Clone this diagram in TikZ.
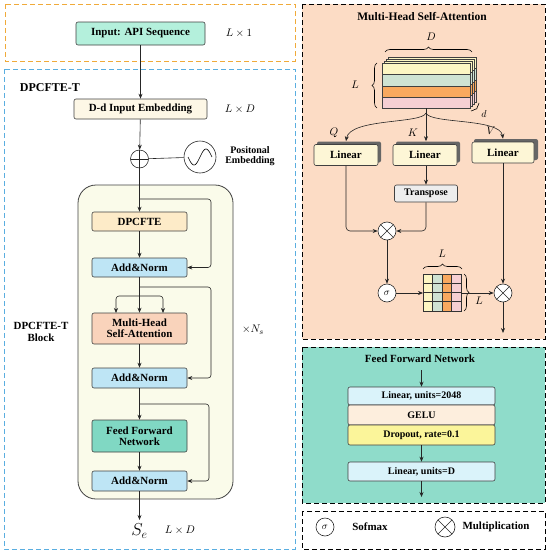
\documentclass[tikz,border=0pt,11pt]{standalone}
\usepackage{fontspec}
\setmainfont{Liberation Serif}
\usetikzlibrary{arrows.meta,decorations.pathreplacing,calc}
\definecolor{cinput}{HTML}{B4F0DC}
\definecolor{cemb}{HTML}{FDF7E6}
\definecolor{cblock}{HTML}{FAFBEA}
\definecolor{cdpc}{HTML}{FDEBC8}
\definecolor{cadd}{HTML}{BEE5F5}
\definecolor{cmhsa}{HTML}{F9D3BB}
\definecolor{cffn}{HTML}{80D8C3}
\definecolor{corange}{HTML}{F0AA3A}
\definecolor{cblue}{HTML}{5AAEE0}
\definecolor{cpeach}{HTML}{FCDCC5}
\definecolor{cteal}{HTML}{8FDCCA}
\definecolor{clin}{HTML}{FDF6D6}
\definecolor{clinb}{HTML}{DAF3FA}
\definecolor{cgelu}{HTML}{FDEEDD}
\definecolor{cdrop}{HTML}{FBF59A}
\definecolor{syel}{HTML}{FDF6C3}
\definecolor{sgrn}{HTML}{CFE3D3}
\definecolor{sorg}{HTML}{F9A95F}
\definecolor{spnk}{HTML}{F6CFD3}
\tikzset{
  bx/.style={draw=black!75, rounded corners=2pt, line width=0.6pt, font=\bfseries, inner sep=0pt, align=center},
  arr/.style={-{Stealth[length=5pt,width=4pt]}, line width=0.6pt, draw=black!85},
  ln/.style={line width=0.6pt, draw=black!85},
  panel/.style={dashed, dash pattern=on 5pt off 3pt, line width=0.8pt},
  opcirc/.style={circle, draw=black!85, line width=0.6pt, fill=white, inner sep=0pt},
  otimes/.style={opcirc, path picture={
     \draw[line width=0.6pt] (path picture bounding box.north west) -- (path picture bounding box.south east)
       (path picture bounding box.north east) -- (path picture bounding box.south west);}},
  oplus/.style={opcirc, fill=none, path picture={
     \draw[line width=0.6pt] (path picture bounding box.north) -- (path picture bounding box.south)
       (path picture bounding box.east) -- (path picture bounding box.west);}},
  brc/.style={decorate, decoration={brace, amplitude=5pt}, line width=0.6pt},
  lbl/.style={font=\bfseries},
}
\begin{document}
\begin{tikzpicture}[x=1pt,y=-1pt]
\useasboundingbox (0,0) rectangle (550,554);
% ---------- panels
\draw[panel, draw=corange] (5,4) rectangle (295,61);
\draw[panel, draw=cblue] (4,69) rectangle (295,549);
\draw[panel, fill=cpeach] (302,4) rectangle (545,339);
\draw[panel, fill=cteal] (302,347) rectangle (545,503);
\draw[panel] (302,511) rectangle (545,549);

% ---------- left column
\node[bx, fill=cinput, minimum width=129pt, minimum height=23pt] (in) at (140.5,33.5) {Input: API Sequence};
\node (inlab) at (239,33.5) {$L\times 1$};
\node[lbl, anchor=west, font=\bfseries\large] (dtitle) at (16,88) {DPCFTE-T};
\node[bx, fill=cemb, minimum width=133pt, minimum height=20pt] (emb) at (140.5,109) {D-d Input Embedding};
\node (emblab) at (240,109) {$L\times D$};
\node[oplus, minimum size=18pt] (plus) at (139.5,159) {};
\node[opcirc, fill=none, minimum size=32pt] (sine) at (200,157) {};
\draw[line width=0.6pt] plot[domain=-1:1, samples=40, smooth] ({200+12*\x},{157-8*sin(\x*180)});
\node[lbl, align=center, font=\bfseries\small] (poslab) at (250,156) {Positonal\\[-2pt]Embedding};

\draw[line width=0.8pt, draw=black!75, fill=cblock, rounded corners=18pt] (78,185) rectangle (233,499);
\node[lbl, align=center] (blklab) at (41,332) {DPCFTE-T\\[-1pt]Block};
\node (nslab) at (253,330) {$\times N_s$};

\node[bx, fill=cdpc, minimum width=95pt, minimum height=19pt] (dpc) at (139.5,221.5) {DPCFTE};
\node[bx, fill=cadd, minimum width=95pt, minimum height=19pt] (add1) at (139.5,267.5) {Add\&Norm};
\node[bx, fill=cmhsa, minimum width=95pt, minimum height=31pt] (mhsa) at (139.5,328.5) {Multi-Head\\[-3pt]Self-Attention};
\node[bx, fill=cadd, minimum width=95pt, minimum height=20pt] (add2) at (139.5,378) {Add\&Norm};
\node[bx, fill=cffn, minimum width=95pt, minimum height=32pt] (ffn) at (139.5,436) {Feed Forward\\[-3pt]Network};
\node[bx, fill=cadd, minimum width=95pt, minimum height=20pt] (add3) at (139.5,481) {Add\&Norm};
\node[font=\LARGE] (se) at (139.5,531) {$S_e$};
\node (selab) at (180,530) {$L\times D$};

\draw[arr] (in) -- (emb);
\draw[arr] (emb) -- (plus);
\draw[ln] (plus) -- (sine);
\draw[arr] (plus) -- (dpc);
\coordinate (b1) at (139.5,199);
\draw[arr, rounded corners=3pt] (b1) -- (211,199) -- (211,267.5) -- (add1.east);
\draw[arr] (dpc) -- (add1);
\draw[arr] (add1) -- (mhsa);
\coordinate (b2) at (139.5,287);
\draw[arr, rounded corners=3pt] (b2) -- (211,287) -- (211,378) -- (add2.east);
\coordinate (b3) at (139.5,296);
\draw[arr, rounded corners=3pt] (b3) -- (116,296) -- (116,313);
\draw[arr, rounded corners=3pt] (b3) -- (163,296) -- (163,313);
\draw[arr] (mhsa) -- (add2);
\draw[arr] (add2) -- (ffn);
\coordinate (b4) at (139.5,404);
\draw[arr, rounded corners=3pt] (b4) -- (209,404) -- (209,481) -- (add3.east);
\draw[arr] (ffn) -- (add3);
\draw[arr] (add3) -- (se);

% ---------- MHSA panel
\node[lbl, font=\bfseries\fontsize{11.5}{13}\selectfont] (mtitle) at (422,17) {Multi-Head Self-Attention};
% stack
\foreach \k in {3,2,1,0}{
  \begin{scope}[shift={(2*\k,-2*\k)}]
    \fill[syel] (382,63) rectangle (470,74.5);
    \fill[sgrn] (382,74.5) rectangle (470,86);
    \fill[sorg] (382,86) rectangle (470,97);
    \fill[spnk] (382,97) rectangle (470,108);
    \draw[line width=0.6pt, black!75] (382,74.5) -- (470,74.5) (382,86) -- (470,86) (382,97) -- (470,97);
    \draw[line width=0.6pt, black!75] (382,63) rectangle (470,108);
  \end{scope}
}
\draw[brc] (385,52) -- (472,52);
\node (dlab) at (431,37) {$D$};
\draw[brc] (377,108) -- (377,63);
\node (llab) at (355,85) {$L$};
\draw[decorate, decoration={brace, amplitude=2.5pt}, line width=0.6pt] (479,103) -- (471,111);
\node[font=\small] (dsm) at (484,114) {$d$};
\coordinate (split) at (426,108);
\coordinate (sp2) at (426,113);
\draw[ln] (split) -- (sp2);

% linear boxes with 3D extrusions
\foreach \cx/\cy in {346/155, 425/155, 503/152.5}{
  \fill[black!60, rounded corners=2pt] (\cx-32+3,\cy-10.5-3) rectangle (\cx+32+3,\cy+10.5-3);
}
\node[bx, fill=clin, minimum width=64pt, minimum height=21pt] (q) at (346,155) {Linear};
\node[bx, fill=clin, minimum width=64pt, minimum height=21pt] (k) at (425,155) {Linear};
\node[bx, fill=clin, minimum width=62pt, minimum height=21pt] (v) at (503,152.5) {Linear};
\node (qlab) at (334,133) {$Q$};
\node (klab) at (413,133) {$K$};
\node (vlab) at (491,131) {$V$};
\draw[arr] (sp2) .. controls (422,124) and (350,118) .. ($(q.north)+(0,-3)$);
\draw[arr] (sp2) -- ($(k.north)+(1,-3)$);
\draw[arr] (sp2) .. controls (430,124) and (500,118) .. ($(v.north)+(0,-3)$);

\node[bx, fill=black!7, font=\bfseries\small, minimum width=63pt, minimum height=17pt] (tr) at (426,193.5) {Transpose};
\draw[arr] (k.south -| tr.north) -- (tr.north);
\node[otimes, minimum size=18pt] (m1) at (387,231) {};
\draw[arr, rounded corners=4pt] (q.south) -- (346,231) -- (m1.west);
\draw[arr, rounded corners=4pt] (tr.south) -- (426,231) -- (m1.east);
\node[opcirc, minimum size=18pt, font=\small] (sig) at (387,293) {$\sigma$};
\draw[arr] (m1) -- (sig);
% matrix
\foreach \i/\c in {0/syel,1/sgrn,2/sorg,3/spnk}{
  \fill[\c] (423+9.5*\i,274) rectangle (423+9.5*\i+9.5,311);
}
\draw[line width=0.6pt, black!80] (423,274) rectangle (461,311);
\foreach \i in {1,2,3}{
  \draw[line width=0.6pt, black!80] (423+9.5*\i,274) -- (423+9.5*\i,311);
  \draw[line width=0.6pt, black!80] (423,274+9.25*\i) -- (461,274+9.25*\i);
}
\coordinate (matw) at (423,293);
\coordinate (mate) at (461,293);
\draw[brc] (423,269) -- (462,269);
\node (mlt) at (442,254) {$L$};
\draw[brc] (464,274) -- (464,311);
\node (mlr) at (479,301) {$L$};
\draw[arr] (sig) -- (matw);
\node[otimes, minimum size=18pt] (m2) at (503,293) {};
\draw[arr] (mate) -- (m2);
\draw[arr] (v) -- (m2);
\coordinate (mout) at (503,333);
\draw[arr] (m2) -- (mout);

% ---------- FFN panel
\node[lbl] (ftitle) at (420,359) {Feed Forward Network};
\coordinate (fin) at (421.5,370);
\node[bx, fill=clinb, font=\bfseries\small, minimum width=147pt, minimum height=18pt] (l1) at (421.5,396) {Linear, units=2048};
\node[bx, fill=cgelu, font=\bfseries\small, minimum width=147pt, minimum height=20pt] (gelu) at (421.5,415) {GELU};
\node[bx, fill=cdrop, font=\bfseries\small, minimum width=147pt, minimum height=20pt] (drop) at (421.5,435) {Dropout, rate=0.1};
\node[bx, fill=clinb, font=\bfseries\small, minimum width=147pt, minimum height=19pt] (l2) at (421.5,471.5) {Linear, units=D};
\coordinate (fout) at (421.5,497);
\draw[arr] (fin) -- (l1);
\draw[arr] (drop) -- (l2);
\draw[arr] (l2) -- (fout);

% ---------- legend
\node[opcirc, minimum size=18pt, font=\small] (lsig) at (325,527) {$\sigma$};
\node[lbl] (lsigt) at (370,527) {Sofmax};
\node[otimes, minimum size=20pt] (lmul) at (445,527) {};
\node[lbl] (lmult) at (496,527) {Multiplication};
\end{tikzpicture}
\end{document}
